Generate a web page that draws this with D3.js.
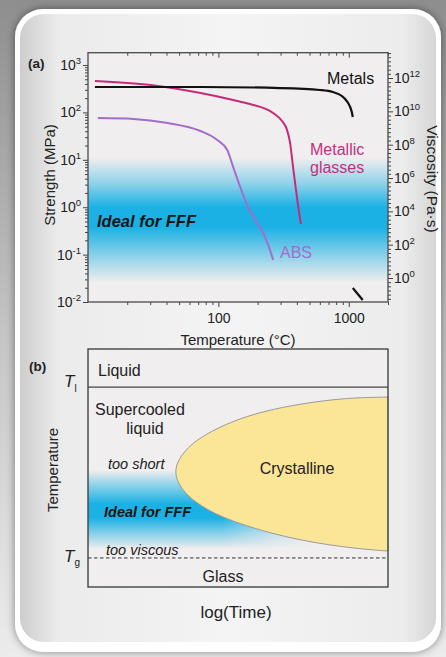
<!doctype html>
<html>
<head>
<meta charset="utf-8">
<title>Strength, viscosity and the FFF processing window</title>
<style>
body { margin: 0; background: #fff; }
svg { display: block; font-family: "Liberation Sans", Arial, sans-serif; }
</style>
</head>
<body>

<svg width="446" height="657"></svg>
<script src="https://d3js.org/d3.v7.min.js"></script>
<script>
// ---- panel (a) data: [temperature degC, strength MPa] ----
var tempTicks = [100, 1000];
var strengthExps = [-2, -1, 0, 1, 2, 3];
var viscosityExps = [0, 2, 4, 6, 8, 10, 12];

var metals = [[11.3,344],[73,344],[297,327],[601,297],[755,269],[885,222],[966,174],[1018,136],[1055,102],[1074,80]];
var metalsMelt = [[1074,0.0197],[1172,0.0148],[1280,0.011]];
var metallicGlasses = [[11.3,459],[30.3,378],[72.9,256],[130,183],[175,150],[263,97],[308,66],[336,43],[355,22.6],[374,7.0],[394,2.3],[408,1.11],[430,0.44]];
var abs = [[11.9,76],[22.4,73],[40.8,60],[72.9,40.5],[98,26.2],[117,16.1],[130,7.0],[147,2.67],[169,1.01],[192,0.54],[224,0.26],[249,0.125],[263,0.077]];

// blue "ideal" band: [strength, intensity]
var idealBandA = [[11,0],[3.2,0.45],[1.0,1],[0.38,1],[0.089,0.45],[0.026,0]];

// ---- panel (b) schematic: [log time 0-100, temperature 0-100] ----
var crystalTop = [[100,79.8],[90.7,79.6],[81.7,78.8],[70.7,76.9],[59.7,74.2],[50.7,70.8],[44,67.2],[39,63.9],[35,60.5],[32,56.7],[30,52.9],[29.2,49.6]];
var crystalBottom = [[29.3,46.2],[30.7,42.4],[33,38.7],[36.7,34.9],[42.3,30.7],[50.7,26.5],[60.7,22.7],[70.7,19.7],[80.7,17.6],[90.7,16.0],[100,15.1]];
var liquidusT = 84, glassT = 12.2;
var idealBandB = [[49,0],[43,0.45],[35,1],[29,1],[22,0.45],[16,0]];

var svg = d3.select("svg"),
    width = +svg.attr("width"),
    height = +svg.attr("height");

var defs = svg.append("defs");
var blue = "#1bb1e4", plotBg = "#f0eeee";

// ---- card background ----
var outerG = defs.append("linearGradient").attr("id", "outer")
    .attr("x1", 0).attr("y1", 0).attr("x2", 0).attr("y2", 1);
outerG.append("stop").attr("offset", 0).attr("stop-color", "#8e8e8e");
outerG.append("stop").attr("offset", 0.5).attr("stop-color", "#c4c4c4");
outerG.append("stop").attr("offset", 1).attr("stop-color", "#ececec");

var innerG = defs.append("linearGradient").attr("id", "inner")
    .attr("x1", 0).attr("y1", 0).attr("x2", 1).attr("y2", 0);
innerG.append("stop").attr("offset", 0).attr("stop-color", "#cdcdcd");
innerG.append("stop").attr("offset", 0.09).attr("stop-color", "#ebebeb");
innerG.append("stop").attr("offset", 0.5).attr("stop-color", "#f4f4f4");
innerG.append("stop").attr("offset", 0.92).attr("stop-color", "#ececec");
innerG.append("stop").attr("offset", 1).attr("stop-color", "#d6d6d6");

var shadow = defs.append("filter").attr("id", "shadow")
    .attr("x", "-10%").attr("y", "-10%").attr("width", "120%").attr("height", "120%");
shadow.append("feDropShadow").attr("dx", 0).attr("dy", 0)
    .attr("stdDeviation", 4).attr("flood-color", "#000").attr("flood-opacity", 0.45);

svg.append("rect").attr("width", width).attr("height", height).attr("fill", "url(#outer)");
svg.append("rect").attr("x", 15).attr("y", 9).attr("width", 426).attr("height", 643)
    .attr("rx", 28).attr("fill", "#fff").attr("filter", "url(#shadow)");
svg.append("rect").attr("x", 20).attr("y", 14).attr("width", 416).attr("height", 628)
    .attr("rx", 24).attr("fill", "url(#inner)");

// ================= panel (a) =================
var x = d3.scaleLog().domain([10, 2000]).range([88, 388]);
var y = d3.scaleLog().domain([0.01, 1820]).range([302, 52.7]);
var yV = d3.scaleLog().domain([Math.pow(10, -1.44), Math.pow(10, 13.52)]).range([302, 52.7]);

var bandA = defs.append("linearGradient").attr("id", "bandA")
    .attr("gradientUnits", "userSpaceOnUse")
    .attr("x1", 0).attr("x2", 0).attr("y1", y.range()[1]).attr("y2", y.range()[0]);
bandA.selectAll("stop").data(idealBandA).enter().append("stop")
    .attr("offset", function(d){ return (y(d[0]) - y.range()[1]) / (y.range()[0] - y.range()[1]); })
    .attr("stop-color", blue)
    .attr("stop-opacity", function(d){ return d[1]; });

svg.append("rect").attr("x", 88).attr("y", 52.7).attr("width", 300).attr("height", 249.3)
    .attr("fill", plotBg);
svg.append("rect").attr("x", 88).attr("y", 52.7).attr("width", 300).attr("height", 249.3)
    .attr("fill", "url(#bandA)");

defs.append("clipPath").attr("id", "clipA").append("rect")
    .attr("x", 88).attr("y", 52.7).attr("width", 300).attr("height", 249.3);

// tick positions
var minorT = [];
[10, 100, 1000].forEach(function(b){
  for (var m = 2; m <= 9; m++) if (b * m <= 2000) minorT.push(b * m);
});
var minorS = [];
strengthExps.forEach(function(e){
  for (var m = 2; m <= 9; m++) if (m * Math.pow(10, e) <= 1820) minorS.push(m * Math.pow(10, e));
});
var minorV = [];
for (var k = -1.25; k <= 13.5; k += 0.25) {
  if (k % 2 !== 0) minorV.push(Math.pow(10, k));
}

function styleAxis(g) {
  g.select(".domain").remove();
  g.selectAll("line").attr("stroke", "#444").attr("stroke-width", 1);
}

// bottom x
svg.append("g").attr("transform", "translate(0,302)")
  .call(d3.axisBottom(x).tickValues(minorT).tickSize(3).tickFormat("")).call(styleAxis);
var xb = svg.append("g").attr("transform", "translate(0,302)")
  .call(d3.axisBottom(x).tickValues(tempTicks).tickSize(5).tickFormat(d3.format("d")))
  .call(styleAxis);
xb.selectAll("text").attr("font-size", 14).attr("fill", "#222").attr("dy", "0.95em")
  .attr("font-family", "Liberation Sans, Arial, sans-serif");

// top x (inward)
svg.append("g").attr("transform", "translate(0,52.7)")
  .call(d3.axisBottom(x).tickValues(minorT).tickSize(3).tickFormat("")).call(styleAxis);
svg.append("g").attr("transform", "translate(0,52.7)")
  .call(d3.axisBottom(x).tickValues(tempTicks).tickSize(5).tickFormat("")).call(styleAxis);

// left y
svg.append("g").attr("transform", "translate(88,0)")
  .call(d3.axisLeft(y).tickValues(minorS).tickSize(3).tickFormat("")).call(styleAxis);
svg.append("g").attr("transform", "translate(88,0)")
  .call(d3.axisLeft(y).tickValues(strengthExps.map(function(e){ return Math.pow(10, e); }))
    .tickSize(5).tickFormat("")).call(styleAxis);

// right y (viscosity)
svg.append("g").attr("transform", "translate(388,0)")
  .call(d3.axisRight(yV).tickValues(minorV).tickSize(3).tickFormat("")).call(styleAxis);
svg.append("g").attr("transform", "translate(388,0)")
  .call(d3.axisRight(yV).tickValues(viscosityExps.map(function(e){ return Math.pow(10, e); }))
    .tickSize(5).tickFormat("")).call(styleAxis);

function powLabel(sel, px, anchor) {
  var t = sel.append("text")
      .attr("x", px).attr("text-anchor", anchor)
      .attr("font-size", 14).attr("fill", "#222");
  t.append("tspan").text("10");
  t.append("tspan").attr("font-size", 9.5).attr("dy", -6).text(function(d){ return d < 0 ? "-" + (-d) : d; });
  return t;
}

powLabel(svg.selectAll(".sl").data(strengthExps).enter().append("g"), 81, "end")
  .attr("y", function(d){ return y(Math.pow(10, d)) + 5; });
powLabel(svg.selectAll(".vl").data(viscosityExps).enter().append("g"), 394, "start")
  .attr("y", function(d){ return yV(Math.pow(10, d)) + 5; });

// curves
var line = d3.line()
    .x(function(d){ return x(d[0]); })
    .y(function(d){ return y(d[1]); })
    .curve(d3.curveMonotoneX);

var curves = svg.append("g").attr("clip-path", "url(#clipA)");
curves.append("path").datum(metallicGlasses).attr("d", line)
    .attr("fill", "none").attr("stroke", "#c72a78").attr("stroke-width", 2);
curves.append("path").datum(abs).attr("d", line)
    .attr("fill", "none").attr("stroke", "#a56ccc").attr("stroke-width", 2);
curves.append("path").datum(metals).attr("d", line)
    .attr("fill", "none").attr("stroke", "#111").attr("stroke-width", 2.2);
curves.append("path").datum(metalsMelt).attr("d", line)
    .attr("fill", "none").attr("stroke", "#111").attr("stroke-width", 2.2);

svg.append("rect").attr("x", 88).attr("y", 52.7).attr("width", 300).attr("height", 249.3)
    .attr("fill", "none").attr("stroke", "#4a4a4a").attr("stroke-width", 1.3);

// labels (a)
svg.append("text").attr("x", 327).attr("y", 84).attr("font-size", 16).attr("fill", "#111").text("Metals");
svg.append("text").attr("x", 310).attr("y", 155).attr("font-size", 16).attr("fill", "#c4307f").text("Metallic");
svg.append("text").attr("x", 310).attr("y", 173).attr("font-size", 16).attr("fill", "#c4307f").text("glasses");
svg.append("text").attr("x", 280).attr("y", 258).attr("font-size", 16).attr("fill", "#a56ccc").text("ABS");
svg.append("text").attr("x", 97).attr("y", 227).attr("font-size", 16.5).attr("font-weight", "bold")
    .attr("font-style", "italic").attr("fill", "#151515").text("Ideal for FFF");

svg.append("text").attr("x", 28).attr("y", 68).attr("font-size", 13.5).attr("font-weight", "bold")
    .attr("fill", "#222").text("(a)");
svg.append("text").attr("x", 238).attr("y", 345).attr("text-anchor", "middle")
    .attr("font-size", 15).attr("fill", "#222").text("Temperature (°C)");
svg.append("text").attr("transform", "translate(55,175) rotate(-90)").attr("text-anchor", "middle")
    .attr("font-size", 15).attr("fill", "#222").text("Strength (MPa)");
svg.append("text").attr("transform", "translate(427,179) rotate(90)").attr("text-anchor", "middle")
    .attr("font-size", 15.5).attr("fill", "#222").text("Viscosity (Pa·s)");

// ================= panel (b) =================
var xb2 = d3.scaleLinear().domain([0, 100]).range([88, 388]);
var yb2 = d3.scaleLinear().domain([0, 100]).range([587, 349]);

svg.append("rect").attr("x", 88).attr("y", 349).attr("width", 300).attr("height", 238)
    .attr("fill", plotBg);

var bandB = defs.append("linearGradient").attr("id", "bandB")
    .attr("gradientUnits", "userSpaceOnUse")
    .attr("x1", 0).attr("x2", 0).attr("y1", yb2(100)).attr("y2", yb2(0));
bandB.selectAll("stop").data(idealBandB).enter().append("stop")
    .attr("offset", function(d){ return (yb2(d[0]) - yb2(100)) / (yb2(0) - yb2(100)); })
    .attr("stop-color", blue)
    .attr("stop-opacity", function(d){ return d[1]; });

var fadeB = defs.append("linearGradient").attr("id", "fadeB")
    .attr("gradientUnits", "userSpaceOnUse")
    .attr("x1", xb2(45)).attr("x2", xb2(75)).attr("y1", 0).attr("y2", 0);
fadeB.append("stop").attr("offset", 0).attr("stop-color", "#fff");
fadeB.append("stop").attr("offset", 1).attr("stop-color", "#000");
defs.append("mask").attr("id", "maskB").append("rect")
    .attr("x", 88).attr("y", 349).attr("width", 300).attr("height", 238).attr("fill", "url(#fadeB)");

svg.append("rect").attr("x", 88).attr("y", 349).attr("width", 300).attr("height", 238)
    .attr("fill", "url(#bandB)").attr("mask", "url(#maskB)");

var crystalLine = d3.line()
    .x(function(d){ return xb2(d[0]); })
    .y(function(d){ return yb2(d[1]); })
    .curve(d3.curveBasis);

svg.append("path").datum(crystalTop.concat(crystalBottom))
    .attr("d", function(d){ return crystalLine(d) + "Z"; })
    .attr("fill", "#fbe596").attr("stroke", "#9a9a9a").attr("stroke-width", 1);

svg.append("line").attr("x1", xb2(0)).attr("x2", xb2(100))
    .attr("y1", yb2(liquidusT)).attr("y2", yb2(liquidusT))
    .attr("stroke", "#444").attr("stroke-width", 1.3);
svg.append("line").attr("x1", xb2(0)).attr("x2", xb2(100))
    .attr("y1", yb2(glassT)).attr("y2", yb2(glassT))
    .attr("stroke", "#333").attr("stroke-width", 1).attr("stroke-dasharray", "3.5,2.5");

svg.append("rect").attr("x", 88).attr("y", 349).attr("width", 300).attr("height", 238)
    .attr("fill", "none").attr("stroke", "#444").attr("stroke-width", 1.4);

// labels (b)
function lbl(tx, ty, s, opts) {
  var t = svg.append("text").attr("x", tx).attr("y", ty).attr("fill", "#222")
      .attr("font-size", (opts && opts.size) || 16).text(s);
  if (opts && opts.anchor) t.attr("text-anchor", opts.anchor);
  if (opts && opts.italic) t.attr("font-style", "italic");
  if (opts && opts.bold) t.attr("font-weight", "bold");
  return t;
}
lbl(29, 371, "(b)", { size: 13.5, bold: true });
lbl(98, 376, "Liquid");
lbl(95, 415, "Supercooled");
lbl(145, 434, "liquid", { anchor: "middle" });
lbl(108, 469, "too short", { size: 14.5, italic: true });
lbl(297, 474, "Crystalline", { anchor: "middle" });
lbl(104, 517, "Ideal for FFF", { size: 14.5, italic: true, bold: true }).attr("fill", "#151515");
lbl(106, 555, "too viscous", { size: 14.5, italic: true });
lbl(223, 582, "Glass", { anchor: "middle" });
lbl(236, 618, "log(Time)", { anchor: "middle", size: 17 });

var tl = svg.append("text").attr("x", 64).attr("y", 387).attr("font-size", 17).attr("fill", "#222");
tl.append("tspan").attr("font-style", "italic").text("T");
tl.append("tspan").attr("font-size", 10).attr("dy", 5).text("l");
var tg = svg.append("text").attr("x", 64).attr("y", 562).attr("font-size", 17).attr("fill", "#222");
tg.append("tspan").attr("font-style", "italic").text("T");
tg.append("tspan").attr("font-size", 10).attr("dy", 4).text("g");

svg.append("text").attr("transform", "translate(58,470) rotate(-90)").attr("text-anchor", "middle")
    .attr("font-size", 15).attr("fill", "#222").text("Temperature");
</script>
</body>
</html>
